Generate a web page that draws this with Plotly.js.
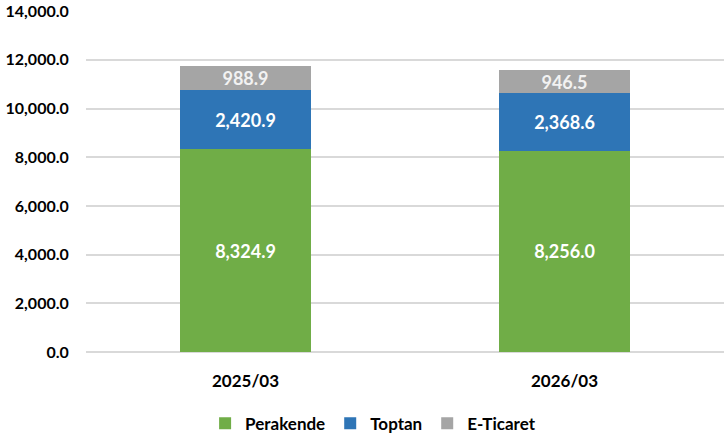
<!DOCTYPE html>
<html><head><meta charset="utf-8">
<script src="https://cdn.plot.ly/plotly-3.0.1.min.js"></script>
<style>body{margin:0}#c{width:724px;height:438px}</style>
</head><body><div id="c"></div>
<script>
const categories = ["2025/03", "2026/03"];
const perakende = [8324.9, 8256.0];
const toptan = [2420.9, 2368.6];
const eticaret = [988.9, 946.5];
const seriesNames = ["Perakende", "Toptan", "E-Ticaret"];
const colors = ["#70AD47", "#2E75B6", "#A5A5A5"];
const yTicks = [0, 2000, 4000, 6000, 8000, 10000, 12000, 14000];

const FONT = 'Lato, sans-serif';
const fmt = v => v.toLocaleString('en-US', {minimumFractionDigits: 1, maximumFractionDigits: 1});

const mk = (vals, i) => ({
  type: 'bar', x: categories, y: vals, name: seriesNames[i],
  marker: {color: colors[i]},
  text: vals.map(fmt), textposition: 'inside', insidetextanchor: 'middle', constraintext: 'none',
  textfont: {color: i === 2 ? '#F2F2F2' : '#FFFFFF', size: 18, family: FONT, weight: 'bold'},
  hoverinfo: 'none'
});

const data = [mk(perakende, 0), mk(toptan, 1), mk(eticaret, 2)];
const layout = {
  width: 724, height: 438, barmode: 'stack', bargap: 0.59,
  margin: {l: 86, r: 0, t: 11, b: 86, autoexpand: false},
  paper_bgcolor: '#fff', plot_bgcolor: '#fff',
  font: {family: FONT, color: '#000', weight: 'bold'},
  uniformtext: {mode: false},
  xaxis: {tickfont: {size: 17, family: FONT, weight: 'bold'}, showline: false, ticks: 'outside', ticklen: 14, tickcolor: 'rgba(0,0,0,0)', automargin: false},
  yaxis: {range: [0, 14005], tickvals: yTicks, ticktext: yTicks.map(fmt),
    tickfont: {size: 16, family: FONT, weight: 'bold'}, gridcolor: '#D9D9D9', gridwidth: 2,
    zeroline: true, zerolinecolor: '#D9D9D9', zerolinewidth: 2, ticks: 'outside', ticklen: 13, tickcolor: 'rgba(0,0,0,0)', automargin: false},
  showlegend: true,
  legend: {orientation: 'h', x: 0.45, xanchor: 'center', y: -0.21, yanchor: 'middle',
    traceorder: 'normal', font: {size: 17, family: FONT, weight: 'bold'}, itemwidth: 30}
};
Plotly.newPlot('c', data, layout, {displayModeBar: false, staticPlot: true});
</script></body></html>
